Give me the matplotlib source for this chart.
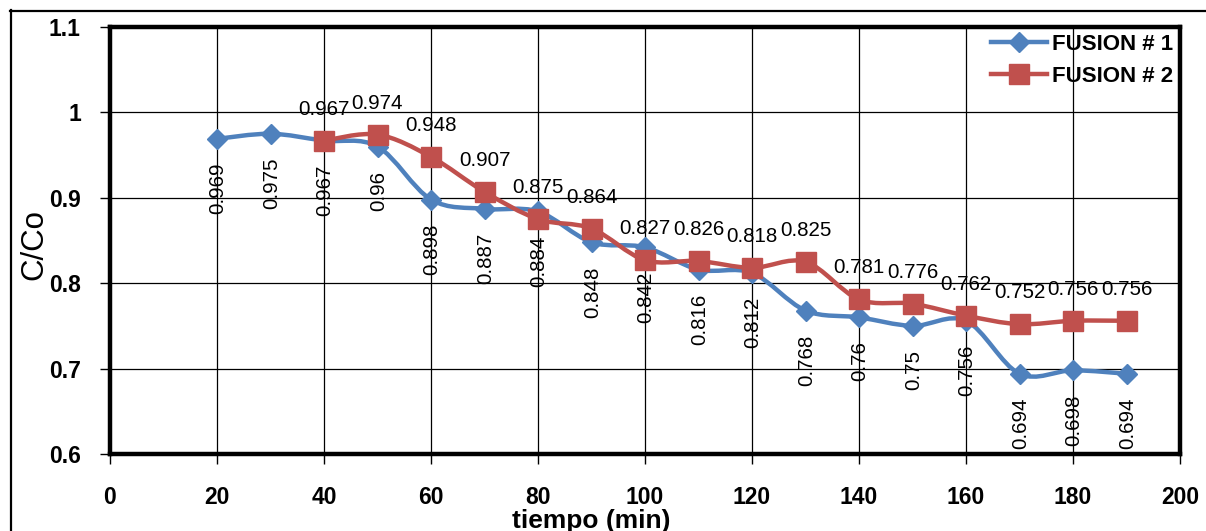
import matplotlib
matplotlib.use("Agg")
import matplotlib.pyplot as plt
from matplotlib.path import Path
from matplotlib.patches import PathPatch
from matplotlib.lines import Line2D

plt.rcParams['font.family'] = ['Liberation Sans', 'DejaVu Sans']

# Data
time_1 = [20, 30, 40, 50, 60, 70, 80, 90, 100, 110, 120, 130, 140, 150, 160, 170, 180, 190]
fusion_1 = [0.969, 0.975, 0.967, 0.96, 0.898, 0.887, 0.884, 0.848, 0.842, 0.816,
            0.812, 0.768, 0.76, 0.75, 0.756, 0.694, 0.698, 0.694]
time_2 = [40, 50, 60, 70, 80, 90, 100, 110, 120, 130, 140, 150, 160, 170, 180, 190]
fusion_2 = [0.967, 0.974, 0.948, 0.907, 0.875, 0.864, 0.827, 0.826, 0.818, 0.825,
            0.781, 0.776, 0.762, 0.752, 0.756, 0.756]
series_names = ["FUSION # 1", "FUSION # 2"]
x_ticks = [0, 20, 40, 60, 80, 100, 120, 140, 160, 180, 200]
y_ticks = [0.6, 0.7, 0.8, 0.9, 1.0, 1.1]
y_tick_labels = ["0.6", "0.7", "0.8", "0.9", "1", "1.1"]

BLUE = "#4F81BD"
RED = "#C0504D"


def smooth_path(xs, ys):
    """Cubic Bezier path through the points (Catmull-Rom style smoothing)."""
    n = len(xs)
    verts = [(xs[0], ys[0])]
    codes = [Path.MOVETO]
    for i in range(n - 1):
        a = i - 1 if i > 0 else i
        d = i + 2 if i + 2 < n else i + 1
        c1 = (xs[i] + (xs[i + 1] - xs[a]) / 6.0, ys[i] + (ys[i + 1] - ys[a]) / 6.0)
        c2 = (xs[i + 1] - (xs[d] - xs[i]) / 6.0, ys[i + 1] - (ys[d] - ys[i]) / 6.0)
        verts += [c1, c2, (xs[i + 1], ys[i + 1])]
        codes += [Path.CURVE4] * 3
    return Path(verts, codes)


fig = plt.figure(figsize=(12.06, 5.31), dpi=100)
ax = fig.add_axes([110 / 1206, 1 - 454 / 531, (1180 - 110) / 1206, (454 - 27) / 531])

ax.set_xlim(0, 200)
ax.set_ylim(0.6, 1.1)
ax.set_xticks(x_ticks)
ax.set_yticks(y_ticks)
ax.set_yticklabels(y_tick_labels)
ax.grid(True, color="black", linewidth=0.9, zorder=0)
ax.set_axisbelow(True)
for side in ax.spines.values():
    side.set_linewidth(3.2)
    side.set_color("black")
ax.tick_params(axis="both", direction="out", length=7, width=1, color="black",
               labelsize=16.5)
ax.tick_params(axis="x", pad=16)
ax.tick_params(axis="y", pad=14)
for lab in ax.get_xticklabels() + ax.get_yticklabels():
    lab.set_fontweight("bold")

# Smoothed series lines
ax.add_patch(PathPatch(smooth_path(time_1, fusion_1), facecolor="none",
                       edgecolor=BLUE, linewidth=3.2, zorder=3, capstyle="round"))
ax.add_patch(PathPatch(smooth_path(time_2, fusion_2), facecolor="none",
                       edgecolor=RED, linewidth=3.2, zorder=4, capstyle="round"))
ax.plot(time_1, fusion_1, linestyle="none", marker="D", markersize=10.5,
        color=BLUE, zorder=5)
ax.plot(time_2, fusion_2, linestyle="none", marker="s", markersize=14.5,
        color=RED, zorder=6)

# Value labels
for x, y in zip(time_1, fusion_1):
    ax.annotate(f"{y:g}", (x, y), xytext=(1, -24), textcoords="offset pixels",
                rotation=90, ha="center", va="top", fontsize=14.8, zorder=7)
for x, y in zip(time_2, fusion_2):
    ax.annotate(f"{y:g}", (x, y), xytext=(0, 26), textcoords="offset pixels",
                ha="center", va="baseline", fontsize=14.8, zorder=7)

ax.set_xlabel("tiempo (min)", fontsize=19, fontweight="bold")
ax.xaxis.set_label_coords((591 - 110) / 1070, -0.128)
ax.set_ylabel("C/Co", fontsize=22.5)
ax.yaxis.set_label_coords(-0.057, 0.49)

handles = [
    Line2D([], [], color=BLUE, linewidth=3.2, marker="D", markersize=10.5),
    Line2D([], [], color=RED, linewidth=3.2, marker="s", markersize=14.5),
]
leg = ax.legend(handles, series_names, loc="upper right", frameon=False,
                prop={"size": 16, "weight": "bold"}, numpoints=1,
                handlelength=2.5, handletextpad=0.25, labelspacing=0.5,
                bbox_to_anchor=(1.002, 1.005), borderaxespad=0.2, borderpad=0.2)
leg.set_zorder(8)

# Outer chart frame (top and left edges)
fig.add_artist(Line2D([10.5 / 1206, 10.5 / 1206], [0, 1 - 10 / 531],
                      color="black", linewidth=1.6, transform=fig.transFigure))
fig.add_artist(Line2D([10 / 1206, 1], [1 - 10.5 / 531, 1 - 10.5 / 531],
                      color="black", linewidth=1.6, transform=fig.transFigure))

fig.savefig("out.png", dpi=100)
